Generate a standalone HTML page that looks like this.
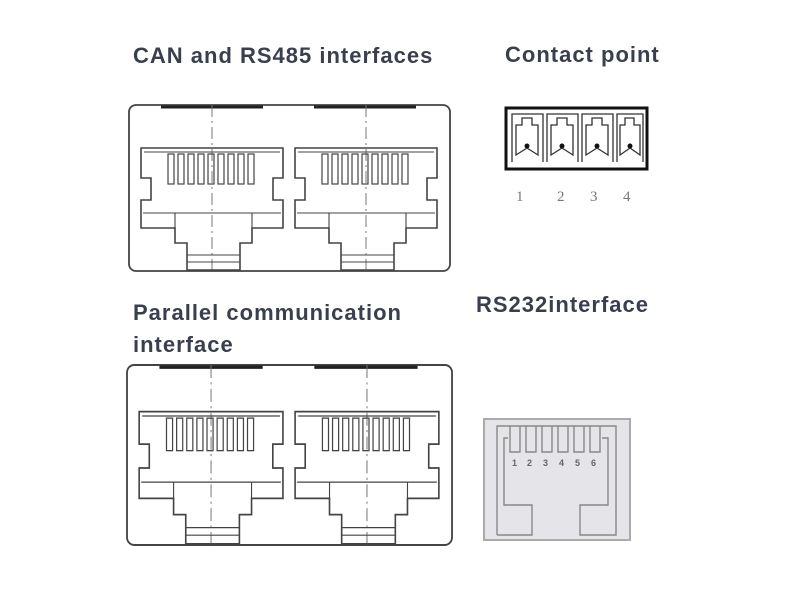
<!DOCTYPE html>
<html><head><style>
body{margin:0;width:800px;height:600px;background:#fff;overflow:hidden}
svg{display:block}
.t{font-family:"Liberation Sans",sans-serif;font-weight:bold;font-size:22px;letter-spacing:1px;fill:#3a3f4e}
</style></head><body>
<svg width="800" height="600" viewBox="0 0 800 600">
<defs>
<g id="jack" fill="none" stroke="#444" stroke-width="1.6">
  <path d="M141,148 H283 V178 H273 V200 H283 V228 H252 V243 H240 V270 H187 V243 H175 V228 H141 V200 H151 V178 H141 Z"/>
  <path d="M144,152 H280 M143,213 H281 M175,213 V228 M252,213 V228 M187,262 H240 M187,255 H240" stroke-width="1.1"/>
  <g stroke-width="1.2">
    <rect x="168" y="154" width="6" height="30"/><rect x="178" y="154" width="6" height="30"/>
    <rect x="188" y="154" width="6" height="30"/><rect x="198" y="154" width="6" height="30"/>
    <rect x="208" y="154" width="6" height="30"/><rect x="218" y="154" width="6" height="30"/>
    <rect x="228" y="154" width="6" height="30"/><rect x="238" y="154" width="6" height="30"/>
    <rect x="248" y="154" width="6" height="30"/>
  </g>
</g>
<g id="dual">
  <rect x="129" y="105" width="321" height="166" rx="7" fill="none" stroke="#444" stroke-width="1.8"/>
  <path d="M161,107 H263 M314,107 H416" stroke="#222" stroke-width="3"/>
  <path d="M212,105 V271 M366,105 V271" stroke="#777" stroke-width="1" stroke-dasharray="12,4,2,4"/>
  <use href="#jack"/>
  <use href="#jack" transform="translate(154,0)"/>
</g>
</defs>
<text class="t" x="133" y="63">CAN and RS485 interfaces</text>
<text class="t" x="505" y="62">Contact point</text>
<text class="t" x="133" y="320">Parallel communication</text>
<text class="t" x="133" y="352">interface</text>
<text class="t" x="476" y="312">RS232interface</text>
<use href="#dual"/>
<use href="#dual" transform="translate(-3.6,251.2) scale(1.0125,1.084)"/>
<rect x="506" y="108" width="141" height="61" fill="none" stroke="#111" stroke-width="3"/>
<g fill="none" stroke="#333" stroke-width="1.3">
  <path d="M512,162 V114 H543 V162 M547,162 V114 H578 V162 M582,162 V114 H613 V162 M617,162 V114 H643 V162"/>
  <path d="M516,155 V125 H522 V118 H532 V125 H538 V155 L527,148 Z"/>
  <path d="M551,155 V125 H557 V118 H567 V125 H573 V155 L562,148 Z"/>
  <path d="M586,155 V125 H592 V118 H602 V125 H608 V155 L597,148 Z"/>
  <path d="M620,155 V125 H625 V118 H634 V125 H640 V155 L630,148 Z"/>
</g>
<g fill="#111"><circle cx="527" cy="146" r="2.5"/><circle cx="562" cy="146" r="2.5"/><circle cx="597" cy="146" r="2.5"/><circle cx="630" cy="146" r="2.5"/></g>
<g font-family="Liberation Serif,serif" font-size="15" fill="#777">
<text x="516" y="201">1</text><text x="557" y="201">2</text><text x="590" y="201">3</text><text x="623" y="201">4</text></g>
<rect x="484" y="419" width="146" height="121" fill="#e4e4e9" stroke="#aaa" stroke-width="2"/>
<g fill="none" stroke="#888" stroke-width="1.4">
  <path d="M497,535 V426 H616 V535 H580 V505 H608 V438 H602"/>
  <path d="M508,438 H504 V505 H532 V535 H497"/>
  <path d="M510,426 V452 H520 V426 M526,426 V452 H536 V426 M542,426 V452 H552 V426 M558,426 V452 H568 V426 M574,426 V452 H584 V426 M590,426 V452 H600 V426"/>
</g>
<g font-family="Liberation Sans,sans-serif" font-size="9" fill="#666" font-weight="bold">
<text x="512" y="466">1</text><text x="527" y="466">2</text><text x="543" y="466">3</text><text x="559" y="466">4</text><text x="575" y="466">5</text><text x="591" y="466">6</text></g>
</svg>
</body></html>
